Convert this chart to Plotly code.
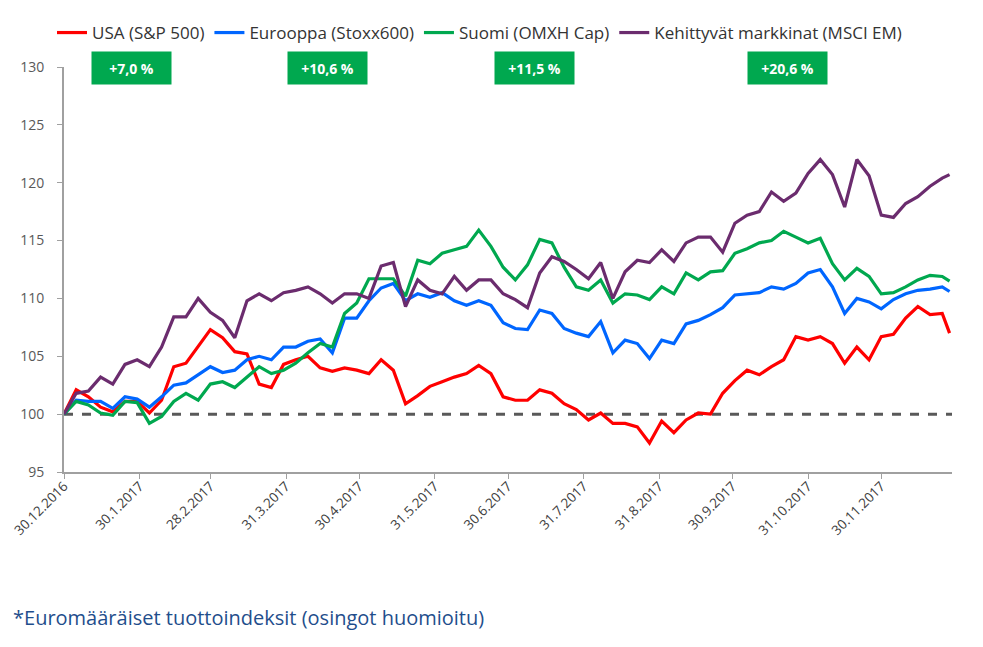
import pandas as pd
import plotly.graph_objects as go

# Dates: every 5 days from 30.12.2016, plus the last observation
dates = list(pd.date_range("2016-12-30", periods=73, freq="5D")) + [pd.Timestamp("2017-12-28")]

usa = [100, 102.1, 101.5, 100.6, 100.2, 101.1, 101.1, 100.1, 101.2, 104.1,
       104.4, 105.8, 107.3, 106.6, 105.4, 105.2, 102.6, 102.3, 104.3, 104.7,
       105.0, 104.0, 103.7, 104.0, 103.8, 103.5, 104.7, 103.8, 100.9, 101.6,
       102.4, 102.8, 103.2, 103.5, 104.2, 103.5, 101.5, 101.2, 101.2, 102.1,
       101.8, 100.9, 100.4, 99.5, 100.1, 99.2, 99.2, 98.9, 97.5, 99.4,
       98.4, 99.5, 100.1, 100.0, 101.8, 102.9, 103.8, 103.4, 104.1, 104.7,
       106.7, 106.4, 106.7, 106.1, 104.4, 105.8, 104.7, 106.7, 106.9, 108.3,
       109.3, 108.6, 108.7, 107.0]
europe = [100, 101.2, 101.1, 101.1, 100.5, 101.5, 101.3, 100.6, 101.5, 102.5,
          102.7, 103.4, 104.1, 103.6, 103.8, 104.7, 105.0, 104.7, 105.8, 105.8,
          106.3, 106.5, 105.3, 108.3, 108.3, 109.8, 110.9, 111.3, 109.8, 110.4,
          110.1, 110.5, 109.8, 109.4, 109.8, 109.4, 107.9, 107.4, 107.3, 109.0,
          108.7, 107.4, 107.0, 106.7, 108.0, 105.3, 106.4, 106.1, 104.8, 106.4,
          106.1, 107.8, 108.1, 108.6, 109.2, 110.3, 110.4, 110.5, 111.0, 110.8,
          111.3, 112.2, 112.5, 111.0, 108.7, 110.0, 109.7, 109.1, 109.9, 110.4,
          110.7, 110.8, 111.0, 110.6]
finland = [100, 101.1, 100.8, 100.1, 99.9, 101.1, 101.0, 99.2, 99.8, 101.1,
           101.8, 101.2, 102.6, 102.8, 102.3, 103.2, 104.1, 103.5, 103.8, 104.4,
           105.3, 106.1, 105.8, 108.7, 109.6, 111.7, 111.7, 111.7, 110.2, 113.3,
           113.0, 113.9, 114.2, 114.5, 115.9, 114.5, 112.7, 111.6, 112.9, 115.1,
           114.8, 112.7, 111.0, 110.7, 111.6, 109.6, 110.4, 110.3, 109.9, 111.0,
           110.4, 112.2, 111.6, 112.3, 112.4, 113.9, 114.3, 114.8, 115.0, 115.8,
           115.3, 114.8, 115.2, 113.0, 111.6, 112.6, 111.9, 110.4, 110.5, 111.0,
           111.6, 112.0, 111.9, 111.5]
emerging = [100, 101.8, 102.0, 103.2, 102.6, 104.3, 104.7, 104.1, 105.8, 108.4,
            108.4, 110.0, 108.8, 108.1, 106.6, 109.8, 110.4, 109.8, 110.5, 110.7,
            111.0, 110.4, 109.6, 110.4, 110.4, 110.0, 112.8, 113.1, 109.3, 111.6,
            110.7, 110.4, 111.9, 110.7, 111.6, 111.6, 110.4, 109.9, 109.2, 112.2,
            113.6, 113.2, 112.5, 111.7, 113.1, 110.0, 112.3, 113.3, 113.1, 114.2,
            113.2, 114.8, 115.3, 115.3, 114.0, 116.5, 117.2, 117.5, 119.2, 118.4,
            119.1, 120.8, 122.0, 120.7, 117.9, 122.0, 120.6, 117.2, 117.0, 118.2,
            118.8, 119.7, 120.4, 120.7]

series_names = ["USA (S&P 500)", "Eurooppa (Stoxx600)", "Suomi (OMXH Cap)",
                "Kehittyvät markkinat (MSCI EM)"]
series_values = [usa, europe, finland, emerging]
series_colors = ["#FF0000", "#0066FF", "#00A84F", "#6B2C6E"]

returns_text = ["+7,0 %", "+10,6 %", "+11,5 %", "+20,6 %"]
returns_xpix = [131.5, 327.5, 534, 787]

tick_dates = ["2016-12-30", "2017-01-30", "2017-02-28", "2017-03-31", "2017-04-30",
              "2017-05-31", "2017-06-30", "2017-07-31", "2017-08-31", "2017-09-30",
              "2017-10-31", "2017-11-30"]
tick_labels = ["30.12.2016", "30.1.2017", "28.2.2017", "31.3.2017", "30.4.2017",
               "31.5.2017", "30.6.2017", "31.7.2017", "31.8.2017", "30.9.2017",
               "31.10.2017", "30.11.2017"]

# page body adds an 8px offset; figure sized to fit the window
W, H = 975, 639
ML, MT = 56, 59
PW, PH = 888, 405
MR = W - ML - PW
MB = H - MT - PH
SX0, SY1 = 64, 472  # screen coords of plot left / bottom


def px(sx):
    return (sx - SX0) / PW


def py(sy):
    return (SY1 - sy) / PH


fig = go.Figure()

# baseline 100 dashed
fig.add_shape(type="line", xref="paper", yref="y", x0=0, x1=1, y0=100, y1=100,
              line=dict(color="#595959", width=3, dash="dash"), layer="below")

for name, vals, col in zip(series_names, series_values, series_colors):
    fig.add_trace(go.Scatter(x=dates, y=vals, mode="lines", name=name,
                             line=dict(color=col, width=3.2)))

for txt, xp in zip(returns_text, returns_xpix):
    fig.add_annotation(xref="paper", yref="paper",
                       x=px(xp), y=py(68),
                       xanchor="center", yanchor="middle",
                       text="<b>%s</b>" % txt, showarrow=False,
                       font=dict(family="Open Sans", size=14, color="white"),
                       bgcolor="#00A84F", width=79, height=32, borderpad=0)

fig.add_annotation(xref="paper", yref="paper", x=px(11), y=py(617),
                   xanchor="left", yanchor="middle", showarrow=False,
                   text="*Euromääräiset tuottoindeksit (osingot huomioitu)",
                   font=dict(family="Open Sans", size=20, color="#1F4E8C"))

fig.update_layout(
    width=W, height=H,
    margin=dict(l=ML, r=MR, t=MT, b=MB, autoexpand=False),
    paper_bgcolor="white", plot_bgcolor="white",
    showlegend=True,
    legend=dict(orientation="h", x=px(52), y=py(33),
                xanchor="left", yanchor="middle",
                font=dict(family="Open Sans", size=17, color="#333333"),
                itemwidth=30, tracegroupgap=0, bgcolor="rgba(0,0,0,0)"),
    xaxis=dict(type="date", range=["2016-12-30", "2017-12-29"],
               tickvals=tick_dates, ticktext=tick_labels, tickangle=-45,
               ticks="outside", ticklen=5, tickcolor="#A0A0A0",
               showline=True, linecolor="#A0A0A0", linewidth=2,
               showgrid=False, zeroline=False, automargin=False,
               ticklabeloverflow="allow", ticklabelstandoff=-6,
               tickfont=dict(family="Open Sans", size=13.5, color="#404040")),
    yaxis=dict(range=[95, 130], tickvals=[95, 100, 105, 110, 115, 120, 125, 130],
               ticks="outside", ticklen=5, tickcolor="#A0A0A0",
               showline=True, linecolor="#A0A0A0", linewidth=2,
               showgrid=False, zeroline=False, automargin=False,
               ticklabelstandoff=10,
               tickfont=dict(family="Open Sans", size=14, color="#595959")),
)

fig.write_html("out.html")
